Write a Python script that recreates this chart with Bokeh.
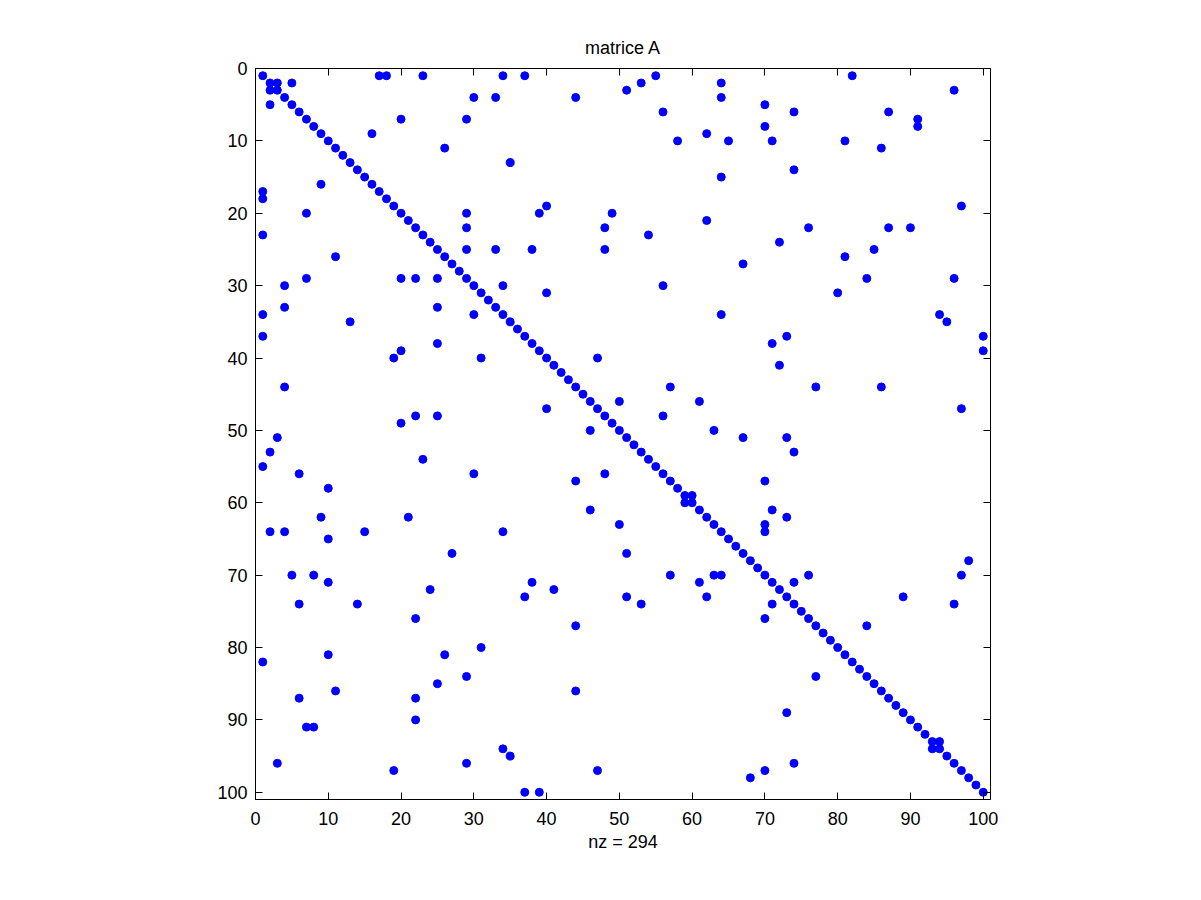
from bokeh.plotting import figure
from bokeh.models import Range1d, LinearAxis, FixedTicker, ColumnDataSource
from bokeh.embed import file_html
from bokeh.resources import INLINE

# ---- data: nonzero pattern of matrix A (column index, row index) ----
diag_idx = [1, 2, 3, 4, 5, 6, 7, 8, 9, 10, 11, 12, 13, 14, 15, 16, 17, 18, 19, 20,
            21, 22, 23, 24, 25, 26, 27, 28, 29, 30, 31, 32, 33, 34, 35, 36, 37, 38, 39, 40,
            41, 42, 43, 44, 45, 46, 47, 48, 49, 50, 51, 52, 53, 54, 55, 56, 57, 58, 59, 60,
            61, 62, 63, 64, 65, 66, 67, 68, 69, 70, 71, 72, 73, 74, 75, 76, 77, 78, 79, 80,
            81, 82, 83, 84, 85, 86, 87, 88, 89, 90, 91, 92, 93, 94, 95, 96, 97, 98, 99, 100]

off_cols = [17, 18, 23, 34, 37, 55, 82,
            3, 5, 53, 64,
            2, 51, 96,
            30, 33, 44, 64,
            2, 70,
            56, 74, 87,
            20, 29, 91,
            70, 91,
            16, 62,
            58, 65, 71, 81,
            26, 86,
            35, 74, 64, 9, 1, 1,
            40, 97,
            7, 29, 39, 49,
            62,
            29, 48, 76, 87, 90,
            1, 54,
            72,
            29, 33, 38, 48, 85,
            11, 81,
            67,
            7, 20, 22, 25, 84, 96,
            4, 34, 56,
            40, 80,
            4, 25,
            1, 30, 64, 94,
            13, 95,
            1, 73, 100,
            25, 71,
            20, 100,
            19, 31, 47,
            72,
            4, 57, 77, 86,
            50, 61,
            40, 97,
            22, 25, 56,
            20,
            46, 63,
            3, 67, 73,
            2, 74,
            23,
            1,
            6, 30, 48,
            44, 70,
            10,
            60, 59,
            46, 71,
            9, 21, 73,
            50, 70,
            2, 4, 15, 34, 70,
            10,
            27, 51,
            98,
            5, 8, 57, 63, 64, 76, 97,
            10, 38, 61, 74,
            24, 41,
            37, 51, 62, 89,
            6, 14, 53, 71, 96,
            22, 70,
            44, 84,
            31,
            10, 26,
            1,
            29, 77,
            25,
            11, 44,
            6, 22,
            73,
            22,
            7, 8,
            94,
            93, 34,
            35,
            3, 29, 74,
            19, 47, 70,
            68,
            37, 39]

off_rows = [1, 1, 1, 1, 1, 1, 1,
            2, 2, 2, 2,
            3, 3, 3,
            4, 4, 4, 4,
            5, 5,
            6, 6, 6,
            7, 7, 7,
            8, 8,
            9, 9,
            10, 10, 10, 10,
            11, 11,
            13, 14, 15, 16, 17, 18,
            19, 19,
            20, 20, 20, 20,
            21,
            22, 22, 22, 22, 22,
            23, 23,
            24,
            25, 25, 25, 25, 25,
            26, 26,
            27,
            29, 29, 29, 29, 29, 29,
            30, 30, 30,
            31, 31,
            33, 33,
            34, 34, 34, 34,
            35, 35,
            37, 37, 37,
            38, 38,
            39, 39,
            40, 40, 40,
            41,
            44, 44, 44, 44,
            46, 46,
            47, 47,
            48, 48, 48,
            49,
            50, 50,
            51, 51, 51,
            53, 53,
            54,
            55,
            56, 56, 56,
            57, 57,
            58,
            59, 60,
            61, 61,
            62, 62, 62,
            63, 63,
            64, 64, 64, 64, 64,
            65,
            67, 67,
            68,
            70, 70, 70, 70, 70, 70, 70,
            71, 71, 71, 71,
            72, 72,
            73, 73, 73, 73,
            74, 74, 74, 74, 74,
            76, 76,
            77, 77,
            80,
            81, 81,
            82,
            84, 84,
            85,
            86, 86,
            87, 87,
            89,
            90,
            91, 91,
            93,
            94, 94,
            95,
            96, 96, 96,
            97, 97, 97,
            98,
            100, 100]

ticks = [0, 10, 20, 30, 40, 50, 60, 70, 80, 90, 100]
title_text = "matrice A"
xlabel_text = "nz = 294"

cols = diag_idx + off_cols
rows = diag_idx + off_rows
source = ColumnDataSource(data=dict(col=cols, row=rows))

FONT = "Liberation Sans"
FS = "18px"

p = figure(width=1185, height=884,
           x_range=Range1d(0, 101), y_range=Range1d(101, 0),
           output_backend="svg", toolbar_location=None,
           min_border_left=255, min_border_right=195,
           min_border_top=68, min_border_bottom=85,
           title=title_text)

p.background_fill_color = "white"
p.border_fill_color = "white"
p.outline_line_color = "black"
p.outline_line_width = 1
p.xgrid.visible = False
p.ygrid.visible = False

p.title.align = "center"
p.title.text_font = FONT
p.title.text_font_size = FS
p.title.text_font_style = "normal"
p.title.text_color = "black"
p.title.standoff = 21

for ax in (p.xaxis[0], p.yaxis[0]):
    ax.ticker = FixedTicker(ticks=ticks)
    ax.major_tick_in = 7
    ax.major_tick_out = 0
    ax.minor_tick_line_color = None
    ax.axis_line_color = "black"
    ax.major_tick_line_color = "black"
    ax.major_label_text_font = FONT
    ax.major_label_text_font_size = FS
    ax.major_label_text_color = "black"

p.yaxis[0].major_label_standoff = 8
p.xaxis[0].major_label_standoff = 12

p.xaxis[0].axis_label = xlabel_text
p.xaxis[0].axis_label_text_font = FONT
p.xaxis[0].axis_label_text_font_size = FS
p.xaxis[0].axis_label_text_font_style = "normal"
p.xaxis[0].axis_label_text_color = "black"
p.xaxis[0].axis_label_standoff = 4

for loc in ("right", "above"):
    ax = LinearAxis(ticker=FixedTicker(ticks=ticks))
    ax.major_tick_in = 7
    ax.major_tick_out = 0
    ax.minor_tick_line_color = None
    ax.axis_line_color = "black"
    ax.major_tick_line_color = "black"
    ax.major_label_text_font_size = "1px"
    ax.major_label_text_color = None
    ax.major_label_standoff = 0
    p.add_layout(ax, loc)

p.scatter(x="col", y="row", source=source, size=8,
          fill_color="#0000FF", line_color="#0000FF", line_width=1)

open("out.html", "w").write(file_html(p, INLINE))
